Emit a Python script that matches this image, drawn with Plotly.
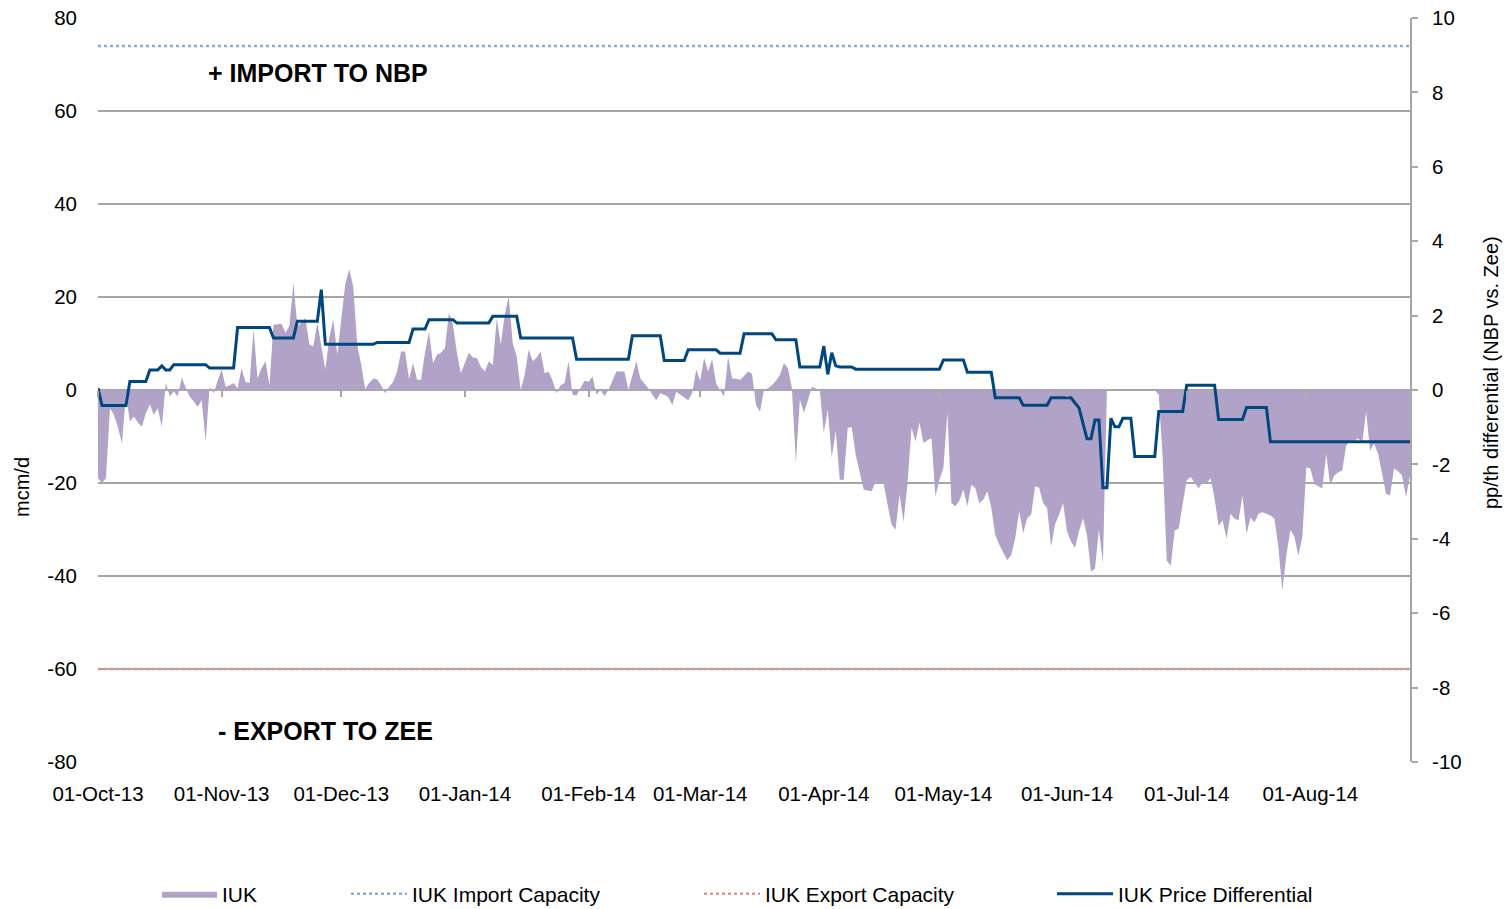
import pandas as pd
import plotly.graph_objects as go

# IUK daily flow (mcm/d), + = import to NBP, - = export to Zee
iuk_oct13 = [-19, -20, -19, -4, -5.3, -8, -11.5, -1, -6.8, -5.7, -7, -7.9, -5, -3.1, -5.3, -3.9,
             -7.9, 1.5, -1.4, -0.3, -1.4, 2.7, 0.5, -1.4, -2.5, -3.6, -2.2, -11.1, 0.7, -0.7, 2]
iuk_nov13 = [4.4, 0.7, 1, 1.5, 0.3, 4.7, 1.7, 1.5, 13, 2.5, 4.7, 6.2, 1, 14.1, 14.1, 14.3,
             12.3, 13.8, 23, 13.6, 14.5, 15.5, 9.8, 9.4, 14.5, 9, 4.4, 11.2, 15.2, 7.6]
iuk_dec13 = [15.9, 22.8, 26, 22.3, 9.8, 5.5, 0.2, 1.5, 2.5, 2.3, 1, -0.7, 0.7, 1.7, 4, 8.3,
             8.3, 2.3, 5.8, 2.2, 2.2, 8, 12.6, 5.8, 7.6, 8, 9, 16.6, 14.1, 8, 3.6]
iuk_jan14 = [6, 8, 7, 6.9, 5, 4, 6.2, 5.4, 15.5, 9.8, 16.2, 20.2, 10, 7.2, 0, 3.3,
             8.7, 6.2, 7, 8.3, 3.6, 4, 2, -0.7, 1, 1.5, 6.2, -1, -1.2, 0.4, 2]
iuk_feb14 = [1.8, 2.9, -1, 0, -1.3, 0, 2, 4, 4, 4, 0, 3, 6.2, 2.5, 1.5, 0.4,
             -1, -2.2, -0.7, -1, -1.5, -3.2, -0.4, -1, -1.6, -2.2, -0.7, 4.4]
iuk_mar14 = [2, 6.9, 4, 6.6, 1.4, 0, -1.4, 7.2, 2.5, 2.4, 2.2, 3, 4, 3.5, -3.2, -4.7,
             0, 0.4, 1, 2, 3.2, 5.8, 4.7, 0.5, -15.7, -2, -4.9, -2.3, 0.7, 0.3, 0]
iuk_apr14 = [-9.2, -4.2, -14.6, -8.8, -19.3, -19.3, -8.1, -8, -13.9, -17.5, -21.4, -21.6,
             -21.8, -19.7, -19.8, -20, -24.7, -29, -30, -22.5, -28.4, -20, -8.1, -11, -7,
             -11.4, -10.8, -10.4, -22.9, -19.3]
iuk_may14 = [-16.7, -4.9, -24.3, -25, -23.9, -21.4, -25, -20.4, -21.1, -24.3, -23.6, -21.8,
             -25.3, -31.2, -33.3, -35, -36.6, -35.5, -31.9, -26.1, -30.8, -27.6, -26.8, -20.7,
             -21, -24.3, -25.4, -33.7, -28.9, -26.8, -24.3]
iuk_jun14 = [-30.4, -32.6, -34, -30.4, -27.6, -31.2, -39.1, -38.4, -30, -37.3, 0, 0, 0, 0,
             0, 0, 0, 0, 0, 0, 0, 0, 0, -1, -15, -36.7, -37.8, -30.2, -29.8, -24.5]
iuk_jul14 = [-19.4, -18.7, -20, -21.2, -19.8, -20, -19, -23.4, -29.2, -28, -32, -26.6, -27.7,
             -28, -22.7, -31, -27.4, -28.5, -26.6, -26.3, -26.6, -27, -27.7, -33.8, -43.2,
             -35.5, -30.1, -31.5, -35.6, -31.7, -16.6]
iuk_aug14 = [-16.9, -20.2, -20.7, -21.2, -13.7, -20.5, -18.4, -17.7, -17.3, -12, -10.8, -11,
             -10.4, -11.5, -4.7, -13, -11.5, -13.7, -18, -22.3, -22.7, -16.9, -17.5, -18.4,
             -23, -18.4]

# IUK price differential, NBP vs. Zee (pp/th)
diff_oct13 = [0.05, -0.42, -0.42, -0.42, -0.42, -0.42, -0.42, -0.42, 0.23, 0.23, 0.23, 0.23,
              0.23, 0.54, 0.54, 0.54, 0.65, 0.54, 0.54, 0.68, 0.68, 0.68, 0.68, 0.68, 0.68,
              0.68, 0.68, 0.68, 0.59, 0.59, 0.59]
diff_nov13 = [0.59, 0.59, 0.59, 0.59, 1.68, 1.68, 1.68, 1.68, 1.68, 1.68, 1.68, 1.68, 1.68,
              1.4, 1.4, 1.4, 1.4, 1.4, 1.4, 1.85, 1.85, 1.85, 1.85, 1.85, 1.85, 2.7, 1.23,
              1.23, 1.23, 1.23]
diff_dec13 = [1.23, 1.23, 1.23, 1.23, 1.23, 1.23, 1.23, 1.23, 1.23, 1.28, 1.28, 1.28, 1.28,
              1.28, 1.28, 1.28, 1.28, 1.28, 1.64, 1.64, 1.64, 1.64, 1.89, 1.89, 1.89, 1.89,
              1.89, 1.89, 1.89, 1.8, 1.8]
diff_jan14 = [1.8, 1.8, 1.8, 1.8, 1.8, 1.8, 1.8, 1.98, 1.98, 1.98, 1.98, 1.98, 1.98, 1.98,
              1.4, 1.4, 1.4, 1.4, 1.4, 1.4, 1.4, 1.4, 1.4, 1.4, 1.4, 1.4, 1.4, 1.4, 0.83,
              0.83, 0.83]
diff_feb14 = [0.83, 0.83, 0.83, 0.83, 0.83, 0.83, 0.83, 0.83, 0.83, 0.83, 0.83, 1.46, 1.46,
              1.46, 1.46, 1.46, 1.46, 1.46, 1.46, 0.79, 0.79, 0.79, 0.79, 0.79, 0.79, 1.08,
              1.08, 1.08]
diff_mar14 = [1.08, 1.08, 1.08, 1.08, 1.08, 0.99, 0.99, 0.99, 0.99, 0.99, 0.99, 1.51, 1.51,
              1.51, 1.51, 1.51, 1.51, 1.51, 1.51, 1.35, 1.35, 1.35, 1.35, 1.35, 1.35, 0.62,
              0.62, 0.62, 0.62, 0.62, 0.62]
diff_apr14 = [1.18, 0.42, 1.0, 0.65, 0.62, 0.62, 0.62, 0.62, 0.56, 0.56, 0.56, 0.56, 0.56,
              0.56, 0.56, 0.56, 0.56, 0.56, 0.56, 0.56, 0.56, 0.56, 0.56, 0.56, 0.56, 0.56,
              0.56, 0.56, 0.56, 0.56]
diff_may14 = [0.81, 0.81, 0.81, 0.81, 0.81, 0.81, 0.48, 0.48, 0.48, 0.48, 0.48, 0.48, 0.48,
              -0.21, -0.21, -0.21, -0.21, -0.21, -0.21, -0.21, -0.41, -0.41, -0.41, -0.41,
              -0.41, -0.41, -0.41, -0.21, -0.21, -0.21, -0.21]
diff_jun14 = [-0.21, -0.21, -0.35, -0.48, -0.9, -1.31, -1.31, -0.81, -0.81, -2.63, -2.63,
              -0.76, -0.99, -0.99, -0.76, -0.76, -0.76, -1.79, -1.79, -1.79, -1.79, -1.79,
              -1.79, -0.58, -0.58, -0.58, -0.58, -0.58, -0.58, -0.58]
diff_jul14 = [0.13, 0.13, 0.13, 0.13, 0.13, 0.13, 0.13, 0.13, -0.79, -0.79, -0.79, -0.79,
              -0.79, -0.79, -0.79, -0.47, -0.47, -0.47, -0.47, -0.47, -0.47, -1.39, -1.39,
              -1.39, -1.39, -1.39, -1.39, -1.39, -1.39, -1.39, -1.39]
diff_aug14 = [-1.39, -1.39, -1.39, -1.39, -1.39, -1.39, -1.39, -1.39, -1.39, -1.39, -1.39,
              -1.39, -1.39, -1.39, -1.39, -1.39, -1.39, -1.39, -1.39, -1.39, -1.39, -1.39,
              -1.39, -1.39, -1.39, -1.39]

import_capacity = 74
export_capacity = -60

left_ticks = [-80, -60, -40, -20, 0, 20, 40, 60, 80]
right_ticks = [-10, -8, -6, -4, -2, 0, 2, 4, 6, 8, 10]

iuk_flow = (iuk_oct13 + iuk_nov13 + iuk_dec13 + iuk_jan14 + iuk_feb14 + iuk_mar14
            + iuk_apr14 + iuk_may14 + iuk_jun14 + iuk_jul14 + iuk_aug14)
price_diff = (diff_oct13 + diff_nov13 + diff_dec13 + diff_jan14 + diff_feb14 + diff_mar14
              + diff_apr14 + diff_may14 + diff_jun14 + diff_jul14 + diff_aug14)
dates = pd.date_range("2013-10-01", periods=len(iuk_flow), freq="D")
month_ticks = pd.date_range("2013-10-01", "2014-08-01", freq="MS")
x_range = [dates[0], dates[-1]]

FONT = "Liberation Sans, Arial, Helvetica, sans-serif"
GRID = "#a6a6a6"

fig = go.Figure()
fig.add_trace(go.Scatter(x=dates, y=iuk_flow, name="IUK", mode="lines",
                         line=dict(width=0, color="#b1a3c8"), fill="tozeroy",
                         fillcolor="#b1a3c8", legend="legend"))
fig.add_trace(go.Scatter(x=dates, y=[import_capacity] * len(dates), name="IUK Import Capacity",
                         mode="lines", line=dict(color="#8eaadb", width=2.5, dash="dot"),
                         legend="legend2"))
fig.add_trace(go.Scatter(x=dates, y=[export_capacity] * len(dates), name="IUK Export Capacity",
                         mode="lines", line=dict(color="#d99694", width=2.5, dash="dot"),
                         legend="legend2"))
fig.add_trace(go.Scatter(x=dates, y=price_diff, name="IUK Price Differential", mode="lines",
                         line=dict(color="#00467f", width=3), yaxis="y2", xaxis="x2",
                         legend="legend2"))

fig.update_layout(
    width=1506, height=909,
    margin=dict(l=98, r=96, t=18, b=147, autoexpand=False),
    paper_bgcolor="white", plot_bgcolor="white",
    font=dict(family=FONT, size=20.5, color="black"),
    showlegend=True,
    xaxis=dict(range=x_range, tickvals=month_ticks, tickformat="%d-%b-%y",
               showgrid=False, showline=False, zeroline=False, ticks="",
               ticklabelstandoff=17, ticklabeloverflow="allow"),
    xaxis2=dict(range=x_range, tickvals=month_ticks, overlaying="x", anchor="free",
                position=0.5, showticklabels=False, showgrid=False, showline=False,
                zeroline=False, ticks="outside", ticklen=6, tickwidth=1.5, tickcolor=GRID),
    yaxis=dict(range=[-80.02, 80.02], tickvals=left_ticks,
               ticktext=[str(v) for v in left_ticks], showgrid=True, gridcolor=GRID,
               gridwidth=1.5, zeroline=False, showline=False, ticks="",
               ticklabelstandoff=20, ticklabeloverflow="allow"),
    yaxis2=dict(range=[-10.0025, 10.0025], tickvals=right_ticks,
                ticktext=[str(v) for v in right_ticks], overlaying="y", side="right",
                anchor="x2", showgrid=False, zeroline=False, showline=True, linecolor=GRID,
                linewidth=2, ticks="outside", ticklen=6, tickwidth=1.5, tickcolor=GRID,
                ticklabelstandoff=10, ticklabeloverflow="allow"),
    legend=dict(orientation="h", x=(157 - 98) / 1312, xanchor="left", y=(762 - 894) / 744,
                yanchor="middle", itemwidth=55, font=dict(size=21),
                bgcolor="rgba(0,0,0,0)", visible=True),
    legend2=dict(orientation="h", x=(346 - 98) / 1312, xanchor="left", y=(762 - 894) / 744,
                 yanchor="middle", itemwidth=56, entrywidth=282, entrywidthmode="pixels",
                 font=dict(size=21), bgcolor="rgba(0,0,0,0)", visible=True),
    annotations=[
        dict(text="<b>+ IMPORT TO NBP</b>", xref="paper", yref="paper", x=(206 - 98) / 1312,
             y=(762 - 73) / 744, xanchor="left", yanchor="middle", showarrow=False,
             font=dict(size=25)),
        dict(text="<b>- EXPORT TO ZEE</b>", xref="paper", yref="paper", x=(216 - 98) / 1312,
             y=(762 - 731) / 744, xanchor="left", yanchor="middle", showarrow=False,
             font=dict(size=25)),
        dict(text="mcm/d", xref="paper", yref="paper", x=(22 - 98) / 1312,
             y=(762 - 487) / 744, xanchor="center", yanchor="middle", textangle=-90,
             showarrow=False, font=dict(size=20)),
        dict(text="pp/th differential (NBP vs. Zee)", xref="paper", yref="paper",
             x=(1491 - 98) / 1312, y=(762 - 373) / 744, xanchor="center", yanchor="middle",
             textangle=-90, showarrow=False, font=dict(size=20)),
    ],
)

# drop the default page margin so the figure fills the window exactly
fig.write_html("out.html", config={"displayModeBar": False},
               post_script="document.body.style.margin = '0';")
